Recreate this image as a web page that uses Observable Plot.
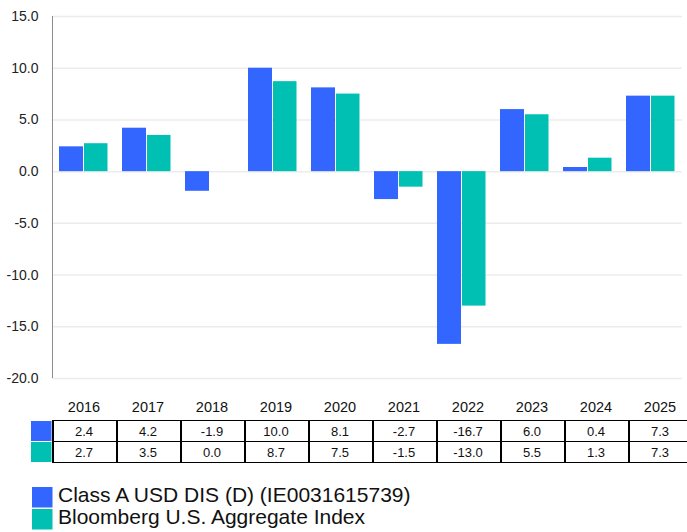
<!DOCTYPE html>
<html>
<head>
<meta charset="utf-8">
<script src="https://cdn.jsdelivr.net/npm/d3@7"></script>
<script src="https://cdn.jsdelivr.net/npm/@observablehq/plot@0.6"></script>
<style>
  html, body { margin: 0; padding: 0; background: #fff; }
  #wrap { position: relative; width: 687px; height: 532px; overflow: hidden; background: #fff; font-family: "Liberation Sans", Arial, sans-serif; }
  #wrap > svg { position: absolute; left: 0; top: 0; }
</style>
</head>
<body>
<div id="wrap"></div>
<script>
const years = ["2016","2017","2018","2019","2020","2021","2022","2023","2024","2025"];
const fundValues = [2.4, 4.2, -1.9, 10.0, 8.1, -2.7, -16.7, 6.0, 0.4, 7.3];
const indexValues = [2.7, 3.5, 0.0, 8.7, 7.5, -1.5, -13.0, 5.5, 1.3, 7.3];
const seriesNames = ["Class A USD DIS (D) (IE0031615739)", "Bloomberg U.S. Aggregate Index"];
const seriesColors = ["#3366ff", "#00bfb3"];
const yTicks = [-20, -15, -10, -5, 0, 5, 10, 15];

const data = years.map((year, i) => ({year, fund: fundValues[i], index: indexValues[i]}));

const chart = Plot.plot({
  width: 687,
  height: 395,
  marginTop: 16,
  marginBottom: 17,
  marginLeft: 52,
  marginRight: 5,
  style: {fontFamily: "Liberation Sans, Arial, sans-serif", fontSize: "14px", color: "#222", background: "transparent"},
  x: {domain: years, padding: 0, axis: null},
  y: {domain: [-20, 15], ticks: yTicks, tickFormat: d => d.toFixed(1), tickSize: 0, tickPadding: 14, label: null},
  marks: [
    Plot.ruleY(yTicks, {stroke: "#ececec", strokeWidth: 1.5}),
    Plot.barY(data, {x: "year", y: "fund", fill: seriesColors[0], insetLeft: 7, insetRight: 32}),
    Plot.barY(data, {x: "year", y: "index", fill: seriesColors[1], insetLeft: 32, insetRight: 7.5}),
    Plot.ruleX([years[0]], {x: d => d, dx: -31.5, y1: -20, y2: 15, stroke: "#8c8c8c", strokeWidth: 1})
  ]
});
document.getElementById("wrap").appendChild(chart);

// Table and legend
const col = d3.scaleBand().domain(years).range([52, 52 + 64 * years.length]);
const svg = d3.select("#wrap").append("svg")
  .attr("width", 687).attr("height", 532)
  .style("font-family", "Liberation Sans, Arial, sans-serif");

// header row
svg.selectAll("text.year").data(years).join("text")
  .attr("x", d => col(d) + col.bandwidth() / 2)
  .attr("y", 407)
  .attr("text-anchor", "middle")
  .attr("dominant-baseline", "central")
  .attr("font-size", 14.5)
  .attr("fill", "#111")
  .text(d => d);

const rows = [fundValues, indexValues];
const rowTop = [420, 441];
rows.forEach((vals, r) => {
  svg.append("rect").attr("x", 31).attr("y", rowTop[r] + 1).attr("width", 20.5).attr("height", 20).attr("fill", seriesColors[r]);
  svg.selectAll(null).data(vals).join("text")
    .attr("x", (d, i) => col(years[i]) + col.bandwidth() / 2)
    .attr("y", rowTop[r] + 11)
    .attr("text-anchor", "middle")
    .attr("dominant-baseline", "central")
    .attr("font-size", 13)
    .attr("fill", "#111")
    .text(d => d.toFixed(1));
});

[420.5, 441.5, 462.5].forEach(y => {
  svg.append("line").attr("x1", 52).attr("x2", 687).attr("y1", y).attr("y2", y).attr("stroke", "#000").attr("stroke-width", 1.2);
});
years.forEach(y => {
  svg.append("line").attr("x1", col(y) + 1).attr("x2", col(y) + 1).attr("y1", 420).attr("y2", 463).attr("stroke", "#000").attr("stroke-width", 2);
});

// legend
const legTop = [487, 509];
seriesNames.forEach((name, i) => {
  svg.append("rect").attr("x", 32).attr("y", legTop[i]).attr("width", 20.5).attr("height", 20.5).attr("fill", seriesColors[i]);
  svg.append("text").attr("x", 58).attr("y", legTop[i] + 15).attr("font-size", 21).attr("fill", "#111").text(name);
});
</script>
</body>
</html>
